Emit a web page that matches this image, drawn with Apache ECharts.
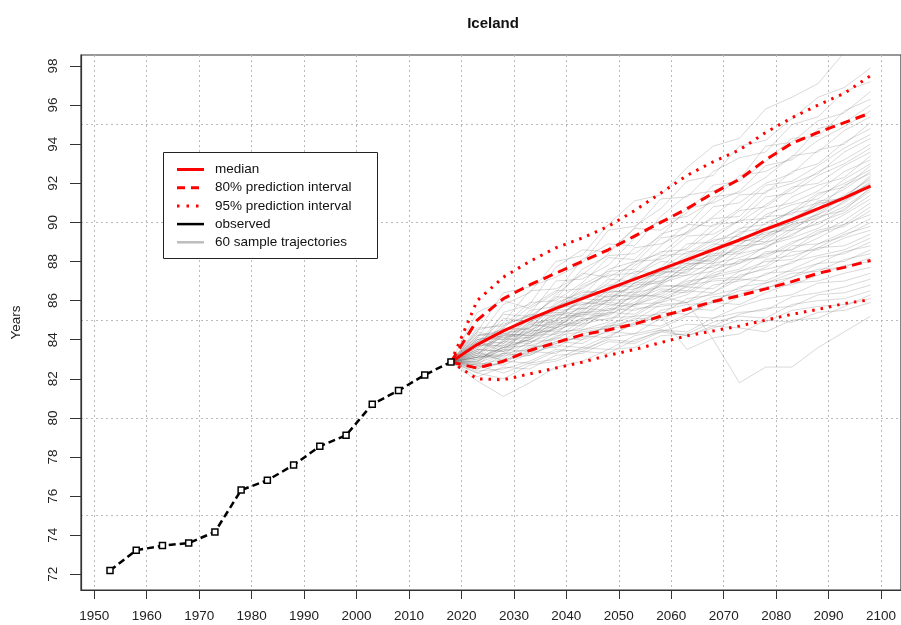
<!DOCTYPE html>
<html>
<head>
<meta charset="utf-8">
<title>Iceland</title>
<script src="https://cdn.jsdelivr.net/npm/echarts@6/dist/echarts.min.js"></script>
<style>
  html, body { margin: 0; padding: 0; background: #fff; }
  #chart { width: 901px; height: 625px; }
</style>
</head>
<body>
<div id="chart"></div>
<script>
// observed life expectancy (5-year periods)
var obsYears = [1953, 1958, 1963, 1968, 1973, 1978, 1983, 1988, 1993, 1998, 2003, 2008, 2013, 2018];
var obsValues = [72.2, 73.23, 73.47, 73.6, 74.17, 76.31, 76.81, 77.59, 78.55, 79.11, 80.7, 81.4, 82.2, 82.86];

// projections
var projYears = [2018, 2023, 2028, 2033, 2038, 2043, 2048, 2053, 2058, 2063, 2068, 2073, 2078, 2083, 2088, 2093, 2098];
var median = [82.86, 83.75, 84.45, 85.05, 85.6, 86.1, 86.6, 87.1, 87.6, 88.1, 88.6, 89.1, 89.65, 90.15, 90.7, 91.25, 91.85];
var upper80 = [82.86, 85.0, 86.1, 86.8, 87.4, 88.0, 88.6, 89.3, 90.0, 90.7, 91.5, 92.2, 93.2, 94.05, 94.6, 95.1, 95.6];
var lower80 = [82.86, 82.55, 82.9, 83.45, 83.85, 84.25, 84.5, 84.8, 85.2, 85.55, 85.95, 86.25, 86.6, 86.97, 87.4, 87.7, 88.05];
var upper95 = [82.86, 86.0, 87.2, 88.0, 88.7, 89.2, 89.8, 90.6, 91.5, 92.4, 93.1, 93.7, 94.6, 95.35, 96.0, 96.6, 97.5];
var lower95 = [82.86, 82.0, 81.95, 82.25, 82.55, 82.85, 83.2, 83.5, 83.85, 84.2, 84.45, 84.7, 85.0, 85.3, 85.55, 85.85, 86.05];

// 60 sample trajectories, values for 2023..2098 (all start at the last observed value)
var trajectories = [
  [84.1, 85.8, 86.4, 88.0, 88.3, 89.9, 91.1, 91.4, 92.8, 93.9, 94.3, 95.8, 96.4, 97.1, 98.7, 99.4],
  [84.4, 86.4, 86.7, 87.2, 87.9, 89.6, 89.8, 90.7, 92.1, 92.4, 93.9, 94.2, 95.3, 96.4, 96.9, 97.9],
  [83.5, 85.4, 85.8, 87.7, 88.6, 88.5, 89.7, 91.2, 91.3, 92.6, 93.3, 93.6, 95.0, 95.4, 96.7, 97.2],
  [85.4, 86.0, 85.6, 86.4, 88.1, 88.9, 88.8, 90.3, 91.4, 91.6, 92.2, 93.9, 94.1, 95.2, 95.6, 96.7],
  [83.4, 84.9, 86.5, 86.6, 87.3, 88.4, 89.7, 89.6, 90.5, 91.9, 92.1, 93.1, 94.3, 94.4, 95.7, 96.3],
  [84.2, 84.4, 85.3, 87.0, 87.1, 87.8, 89.2, 90.1, 90.3, 91.1, 92.4, 92.6, 93.3, 94.8, 95.1, 96.0],
  [83.8, 85.3, 85.2, 86.1, 87.6, 88.3, 88.4, 89.3, 90.7, 91.0, 91.6, 92.9, 93.2, 94.2, 94.9, 95.7],
  [84.6, 84.7, 85.9, 86.0, 86.9, 88.2, 88.1, 89.4, 89.8, 91.3, 91.5, 92.3, 93.4, 93.6, 94.7, 95.4],
  [83.2, 84.6, 85.7, 86.5, 86.6, 87.4, 88.7, 88.9, 89.5, 90.8, 91.0, 92.0, 92.5, 93.7, 94.0, 95.1],
  [84.0, 84.2, 85.0, 86.3, 87.4, 87.2, 87.9, 89.2, 89.4, 90.3, 91.4, 91.5, 92.6, 93.0, 94.1, 94.8],
  [83.7, 85.1, 84.9, 85.6, 86.8, 87.5, 87.6, 88.8, 89.9, 89.8, 90.7, 91.9, 92.1, 92.9, 93.8, 94.5],
  [84.3, 84.0, 85.5, 85.7, 86.2, 87.6, 88.0, 88.4, 89.5, 90.2, 90.3, 91.6, 92.0, 92.5, 93.6, 94.3],
  [83.1, 84.3, 84.6, 85.9, 86.4, 86.5, 87.8, 88.5, 88.6, 89.6, 90.6, 90.8, 91.7, 92.6, 93.2, 94.0],
  [84.5, 84.8, 85.2, 85.4, 86.7, 87.3, 87.4, 88.2, 89.3, 89.4, 90.1, 91.3, 91.5, 92.4, 93.0, 93.8],
  [83.3, 83.9, 85.1, 86.2, 86.1, 86.9, 88.0, 88.1, 88.7, 89.9, 90.0, 90.9, 91.8, 92.0, 92.9, 93.6],
  [84.2, 84.5, 84.6, 85.8, 86.5, 86.4, 87.2, 88.3, 88.4, 89.2, 90.1, 90.2, 91.3, 91.9, 92.3, 93.4],
  [83.6, 84.7, 85.3, 85.2, 86.0, 87.1, 87.0, 87.7, 88.9, 89.0, 89.6, 90.7, 91.0, 91.6, 92.6, 93.2],
  [82.9, 83.8, 84.9, 85.5, 85.6, 86.7, 87.5, 87.4, 88.3, 89.1, 89.3, 90.4, 90.9, 91.2, 92.2, 93.0],
  [84.4, 84.1, 84.4, 85.7, 86.3, 86.2, 87.3, 88.0, 87.9, 88.8, 89.7, 89.9, 90.6, 91.5, 91.8, 92.9],
  [83.9, 84.6, 84.5, 85.0, 86.2, 86.8, 86.7, 87.6, 88.5, 88.6, 89.4, 90.3, 90.4, 91.4, 92.0, 92.7],
  [83.0, 83.6, 84.7, 84.8, 85.4, 86.6, 86.9, 87.5, 88.0, 88.3, 89.5, 89.7, 90.6, 91.0, 91.7, 92.6],
  [84.0, 84.3, 84.2, 85.6, 85.8, 86.0, 87.2, 87.3, 88.2, 88.9, 88.8, 90.0, 90.5, 90.7, 91.9, 92.5],
  [83.5, 83.4, 84.8, 85.1, 85.2, 86.4, 86.6, 87.0, 88.1, 88.0, 89.2, 89.6, 90.0, 91.1, 91.2, 92.4],
  [82.8, 84.0, 84.1, 85.3, 85.9, 85.8, 86.9, 87.5, 87.4, 88.6, 89.0, 89.3, 90.2, 90.9, 91.3, 92.3],
  [84.1, 84.0, 84.9, 84.9, 85.7, 86.5, 86.4, 87.4, 87.6, 88.5, 89.1, 89.0, 90.1, 90.6, 91.4, 92.2],
  [83.3, 84.2, 84.3, 85.0, 86.1, 86.0, 86.5, 87.6, 87.7, 88.2, 89.2, 89.4, 89.9, 91.0, 91.1, 92.1],
  [83.7, 83.7, 84.4, 85.4, 85.3, 86.1, 86.8, 86.9, 87.8, 88.4, 88.5, 89.6, 90.0, 90.4, 91.3, 92.0],
  [83.2, 84.4, 84.4, 84.7, 85.8, 86.2, 86.3, 87.3, 87.9, 87.9, 88.9, 89.5, 89.6, 90.5, 91.3, 91.95],
  [84.0, 83.8, 84.6, 85.3, 85.2, 86.0, 86.9, 87.0, 87.5, 88.3, 88.4, 89.3, 89.8, 90.4, 91.0, 91.9],
  [83.1, 83.9, 84.8, 84.6, 85.5, 86.3, 86.2, 86.9, 87.8, 88.1, 88.7, 89.2, 89.9, 90.2, 91.1, 91.9],
  [83.8, 84.2, 84.1, 85.2, 85.6, 85.5, 86.6, 87.2, 87.3, 88.0, 88.8, 88.9, 89.7, 90.3, 90.6, 91.8],
  [82.9, 83.5, 84.5, 84.4, 85.1, 86.0, 86.1, 86.8, 87.6, 87.7, 88.6, 89.0, 89.3, 90.2, 90.8, 91.7],
  [83.9, 83.6, 84.0, 85.0, 85.4, 85.3, 86.4, 86.7, 86.8, 87.9, 88.2, 88.7, 89.6, 89.9, 90.7, 91.6],
  [83.4, 84.3, 84.2, 84.6, 85.6, 85.9, 85.8, 86.9, 87.3, 87.5, 88.4, 88.7, 89.4, 90.0, 90.5, 91.4],
  [82.8, 83.3, 84.1, 84.9, 84.8, 85.7, 86.2, 86.3, 87.1, 87.8, 87.9, 88.8, 89.2, 89.7, 90.4, 91.2],
  [83.7, 83.9, 83.8, 84.7, 85.3, 85.2, 86.1, 86.6, 86.5, 87.6, 88.0, 88.3, 89.0, 89.4, 90.1, 91.0],
  [83.1, 83.2, 84.3, 84.5, 84.9, 85.8, 85.7, 86.4, 87.0, 87.2, 88.1, 88.2, 88.9, 89.6, 89.9, 90.8],
  [83.6, 84.1, 83.9, 84.3, 85.4, 85.5, 85.9, 86.8, 86.7, 87.4, 87.9, 88.4, 88.6, 89.5, 89.8, 90.6],
  [82.7, 83.7, 84.0, 84.8, 84.7, 85.4, 86.3, 86.2, 86.9, 87.3, 87.6, 88.5, 88.6, 89.2, 89.9, 90.4],
  [83.9, 83.4, 83.8, 84.6, 85.1, 85.0, 85.8, 86.5, 86.4, 87.2, 87.5, 87.8, 88.8, 88.9, 89.5, 90.2],
  [83.0, 83.6, 83.7, 84.1, 85.0, 85.4, 85.3, 86.1, 86.7, 86.6, 87.5, 88.0, 88.1, 88.9, 89.3, 90.0],
  [83.5, 83.4, 84.2, 84.3, 84.6, 85.6, 85.5, 85.9, 86.8, 87.0, 87.1, 88.1, 88.3, 88.7, 89.4, 89.8],
  [82.6, 83.3, 83.5, 84.4, 84.5, 84.9, 85.8, 85.9, 86.3, 87.1, 87.2, 87.7, 88.5, 88.6, 89.2, 89.6],
  [83.3, 83.1, 83.9, 84.0, 84.8, 85.1, 85.2, 86.0, 86.5, 86.4, 87.3, 87.6, 87.9, 88.7, 88.8, 89.4],
  [82.9, 83.5, 83.4, 84.2, 84.4, 84.6, 85.6, 85.7, 85.9, 86.8, 87.0, 87.3, 88.0, 88.3, 88.6, 89.2],
  [83.4, 82.9, 83.6, 83.8, 84.5, 84.7, 85.0, 85.8, 85.9, 86.4, 87.1, 87.0, 87.6, 88.2, 88.4, 89.0],
  [82.5, 83.2, 83.3, 84.1, 84.0, 84.8, 85.2, 85.3, 86.1, 86.3, 86.6, 87.4, 87.5, 87.9, 88.5, 88.8],
  [83.2, 83.0, 83.7, 83.6, 84.3, 84.6, 84.7, 85.5, 85.8, 85.9, 86.7, 86.9, 87.2, 87.9, 88.0, 88.6],
  [82.6, 82.8, 83.5, 83.9, 83.8, 84.5, 85.1, 85.0, 85.6, 86.2, 86.3, 86.9, 87.4, 87.5, 88.1, 88.4],
  [83.1, 83.3, 83.2, 83.8, 84.2, 84.1, 84.9, 85.4, 85.3, 86.0, 86.5, 86.6, 87.2, 87.6, 87.7, 88.2],
  [82.3, 82.9, 83.4, 83.3, 84.0, 84.4, 84.3, 85.1, 85.6, 85.5, 86.2, 86.7, 86.8, 87.3, 87.8, 88.0],
  [82.8, 82.7, 83.3, 83.7, 83.6, 84.2, 84.8, 84.7, 85.3, 85.9, 85.8, 86.4, 86.9, 87.0, 87.4, 87.7],
  [82.4, 82.5, 82.9, 83.5, 83.4, 84.1, 84.3, 84.6, 85.2, 85.1, 85.7, 86.1, 86.3, 86.9, 87.0, 87.4],
  [82.7, 82.3, 82.8, 83.0, 83.6, 83.5, 84.2, 84.5, 84.4, 85.1, 85.4, 85.5, 86.2, 86.4, 86.7, 87.1],
  [82.1, 82.6, 82.5, 83.2, 83.3, 83.9, 83.8, 84.4, 84.8, 84.7, 85.3, 85.6, 85.7, 86.3, 86.4, 86.8],
  [81.9, 81.1, 81.8, 82.6, 82.9, 83.5, 83.6, 84.2, 84.3, 84.9, 85.2, 85.1, 85.8, 86.0, 86.1, 86.5],
  [82.3, 82.0, 82.7, 82.9, 83.4, 83.3, 84.0, 84.4, 84.2, 84.6, 85.0, 84.9, 85.5, 85.7, 85.8, 86.1],
  [82.7, 83.0, 83.2, 83.9, 84.1, 84.7, 84.8, 85.2, 83.5, 84.1, 84.3, 85.0, 84.9, 85.4, 85.5, 85.9],
  [83.1, 83.6, 84.0, 84.6, 85.0, 85.3, 85.8, 86.2, 85.9, 84.0, 81.8, 82.6, 82.6, 83.6, 84.4, 85.2],
  [82.5, 82.9, 82.8, 83.4, 83.5, 84.0, 83.9, 84.5, 84.2, 84.7, 84.6, 84.4, 85.0, 85.1, 85.7, 86.3]
];

var xTicks = [1950, 1960, 1970, 1980, 1990, 2000, 2010, 2020, 2030, 2040, 2050, 2060, 2070, 2080, 2090, 2100];
var yTicks = [72, 74, 76, 78, 80, 82, 84, 86, 88, 90, 92, 94, 96, 98];
var yGrid = [75, 80, 85, 90, 95];

var FONT = '"Liberation Sans", Arial, sans-serif';
var RED = '#ff0000';

function pairs(xs, ys) {
  return xs.map(function (x, i) { return [x, ys[i]]; });
}

var series = [];
trajectories.forEach(function (t, k) {
  series.push({
    name: 'traj' + k,
    type: 'line',
    data: pairs(projYears, [obsValues[obsValues.length - 1]].concat(t)),
    symbol: 'none',
    silent: true,
    lineStyle: { color: 'rgba(110,110,110,0.26)', width: 1 },
    z: 2
  });
});

series.push(
  {
    name: '95% prediction interval',
    type: 'line', data: pairs(projYears, upper95), symbol: 'none', z: 3,
    lineStyle: { color: RED, width: 3, type: [2.5, 6], cap: 'butt' }
  },
  {
    name: '95% lower', type: 'line', data: pairs(projYears, lower95), symbol: 'none', z: 3,
    lineStyle: { color: RED, width: 3, type: [2.5, 6], cap: 'butt' }
  },
  {
    name: '80% prediction interval',
    type: 'line', data: pairs(projYears, upper80), symbol: 'none', z: 3,
    lineStyle: { color: RED, width: 3, type: [10, 6] }
  },
  {
    name: '80% lower', type: 'line', data: pairs(projYears, lower80), symbol: 'none', z: 3,
    lineStyle: { color: RED, width: 3, type: [10, 6] }
  },
  {
    name: 'median', type: 'line', data: pairs(projYears, median), symbol: 'none', z: 4,
    lineStyle: { color: RED, width: 3 }
  },
  {
    name: 'observed', type: 'line', data: pairs(obsYears, obsValues), z: 5,
    symbol: 'rect', symbolSize: 6,
    itemStyle: { color: '#fff', borderColor: '#000', borderWidth: 1.5 },
    lineStyle: { color: '#000', width: 2.5, type: [7, 4] }
  }
);

// legend box drawn as graphic (R style)
var legendItems = [
  { label: 'median', color: RED, dash: null, width: 3 },
  { label: '80% prediction interval', color: RED, dash: [8, 6], width: 3 },
  { label: '95% prediction interval', color: RED, dash: [2.5, 7], width: 3 },
  { label: 'observed', color: '#000', dash: null, width: 2.5 },
  { label: '60 sample trajectories', color: '#bdbdbd', dash: null, width: 2.5 }
];
var legendGraphic = [{
  type: 'rect', left: 163, top: 152, z: 100,
  shape: { width: 214, height: 106 },
  style: { fill: '#fff', stroke: '#222', lineWidth: 1 }
}];
legendItems.forEach(function (it, i) {
  var y = 169.5 + i * 18.2;
  legendGraphic.push({
    type: 'line', z: 101,
    shape: { x1: 177, y1: y, x2: 204, y2: y },
    style: { stroke: it.color, lineWidth: it.width, lineDash: it.dash }
  });
  legendGraphic.push({
    type: 'text', z: 101, x: 215, y: y,
    style: { text: it.label, fill: '#111', font: '13.5px ' + FONT, textVerticalAlign: 'middle' }
  });
});

var chart = echarts.init(document.getElementById('chart'), null, { renderer: 'canvas' });
chart.setOption({
  animation: false,
  backgroundColor: '#fff',
  title: {
    text: 'Iceland', left: 488, top: 11, textAlign: 'center',
    textStyle: { fontFamily: FONT, fontSize: 15, fontWeight: 'bold', color: '#111' }
  },
  grid: {
    left: 81, top: 55, width: 822, height: 535,
    show: true, borderColor: '#333', borderWidth: 1.2, backgroundColor: 'transparent'
  },
  xAxis: {
    type: 'value', min: 1947.47, max: 2103.8,
    axisLine: { show: true, lineStyle: { color: '#333', width: 1.2 } },
    axisTick: { show: true, length: 9, customValues: xTicks, lineStyle: { color: '#333' } },
    axisLabel: {
      customValues: xTicks, margin: 19, fontFamily: FONT, fontSize: 13.5, color: '#222',
      formatter: function (v) { return String(v); }
    },
    splitLine: { show: true, lineStyle: { color: '#bbb', type: [2, 3], width: 1 } }
  },
  yAxis: [
    {
      type: 'value', min: 71.2, max: 98.56,
      name: 'Years', nameLocation: 'middle', nameGap: 58,
      nameTextStyle: { fontFamily: FONT, fontSize: 13.5, color: '#222' },
      axisLine: { show: true, lineStyle: { color: '#333', width: 1.2 } },
      axisTick: { show: true, length: 11, customValues: yTicks, lineStyle: { color: '#333' } },
      axisLabel: { customValues: yTicks, rotate: 90, margin: 21, fontFamily: FONT, fontSize: 13.5, color: '#222' },
      splitLine: { show: false }
    },
    {
      type: 'value', min: 71.2, max: 98.56, position: 'left',
      axisLine: { show: false },
      axisTick: { show: false, customValues: yGrid },
      axisLabel: { show: false, customValues: yGrid },
      splitLine: { show: true, lineStyle: { color: '#bbb', type: [2, 3], width: 1 } }
    }
  ],
  graphic: legendGraphic,
  series: series
});
</script>
</body>
</html>
